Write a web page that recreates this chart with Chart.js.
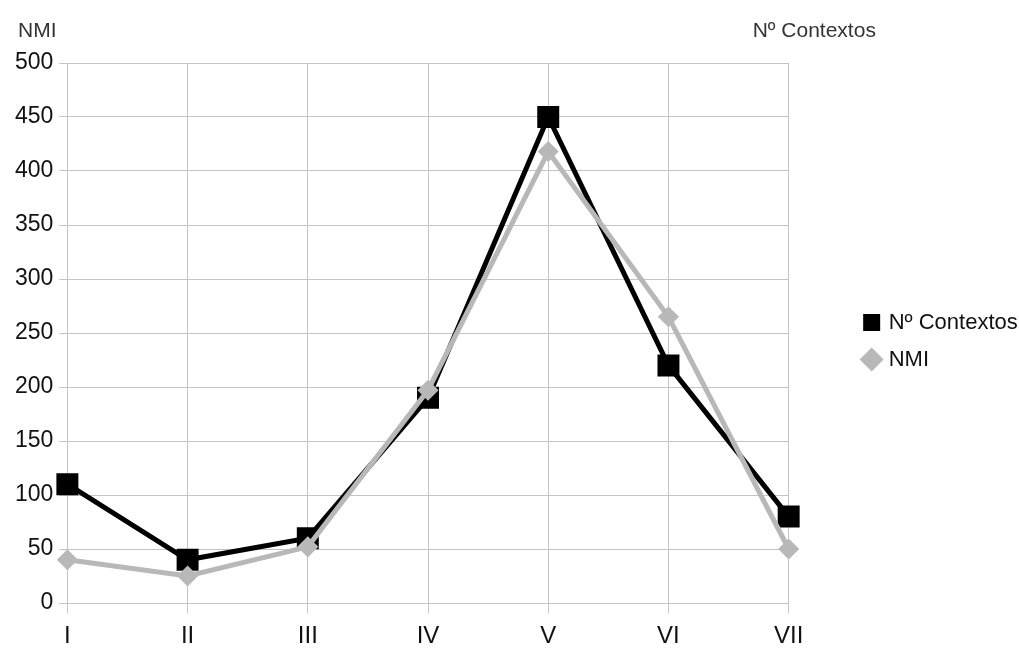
<!DOCTYPE html>
<html>
<head>
<meta charset="utf-8">
<script src="https://cdn.jsdelivr.net/npm/chart.js@4"></script>
<style>
  html, body { margin: 0; padding: 0; background: #fff; }
  #wrap { width: 1019px; height: 649px; position: relative; }
</style>
</head>
<body>
<div id="wrap"><canvas id="myLineChart"></canvas></div>
<script>
var categories = ["I", "II", "III", "IV", "V", "VI", "VII"];
var contextos = [110, 40, 60, 190, 450, 220, 80];
var nmi = [40, 25, 52, 197, 418, 265, 50];
var yTicks = [0, 50, 100, 150, 200, 250, 300, 350, 400, 450, 500];

var fontFamily = "'Liberation Sans', Arial, sans-serif";

// axis titles drawn above the plot, left and right
var axisTitles = {
    id: 'axisTitles',
    afterDraw: function (chart) {
        var c = chart.ctx;
        var area = chart.chartArea;
        c.save();
        c.fillStyle = "#333";
        c.font = "21px " + fontFamily;
        c.textBaseline = "middle";
        c.textAlign = "left";
        c.fillText("NMI", 18, 31);
        c.fillText("Nº Contextos", area.right - 36, 31);
        c.restore();
    }
};

document.addEventListener('DOMContentLoaded', function () {
    var ctx = document.getElementById("myLineChart");

    new Chart(ctx, {
        type: 'line',
        data: {
            labels: categories,
            datasets: [{
                label: "NMI",
                data: nmi,
                borderColor: "#b8b8b8",
                backgroundColor: "#b8b8b8",
                borderWidth: 5,
                pointStyle: 'rectRot',
                pointRadius: 7,
                pointHoverRadius: 7,
                tension: 0
            }, {
                label: "Nº Contextos",
                data: contextos,
                borderColor: "#000",
                backgroundColor: "#000",
                borderWidth: 5,
                pointStyle: 'rect',
                pointRadius: 12,
                pointHoverRadius: 12,
                tension: 0
            }],
        },
        options: {
            responsive: true,
            maintainAspectRatio: false,
            animation: false,
            layout: {
                padding: { left: 9, right: 0, top: 63, bottom: 0 }
            },
            plugins: {
                legend: {
                    position: 'right',
                    fullSize: false,
                    reverse: true,
                    title: {
                        display: true,
                        text: ' ',
                        padding: 2,
                        font: { size: 10 }
                    },
                    labels: {
                        usePointStyle: true,
                        boxWidth: 12,
                        boxHeight: 12,
                        padding: 15,
                        color: "#111",
                        font: { family: fontFamily, size: 22 }
                    }
                },
                tooltip: { enabled: false }
            },
            scales: {
                x: {
                    offset: false,
                    grid: { color: "#c4c4c4", tickLength: 10 },
                    border: { color: "#c4c4c4" },
                    ticks: {
                        maxRotation: 0, minRotation: 0,
                        color: "#111",
                        padding: 11,
                        font: { family: fontFamily, size: 24, lineHeight: 1.0 }
                    },
                    afterFit: function (axis) { axis.height = 46; }
                },
                y: {
                    min: 0,
                    max: 500,
                    afterBuildTicks: function (axis) {
                        axis.ticks = yTicks.map(function (v) { return { value: v }; });
                    },
                    grid: { color: "#c4c4c4", tickLength: 8 },
                    border: { color: "#c4c4c4" },
                    ticks: {
                        color: "#111",
                        padding: 6,
                        font: { family: fontFamily, size: 23 }
                    }
                },
                // empty secondary axis: keeps the gap between plot and legend
                y2: {
                    position: 'right',
                    min: 0,
                    max: 500,
                    grid: { display: false },
                    border: { display: false },
                    ticks: { display: false },
                    afterFit: function (axis) { axis.width = 62; }
                }
            }
        },
        plugins: [axisTitles]
    });
});
</script>
</body>
</html>
